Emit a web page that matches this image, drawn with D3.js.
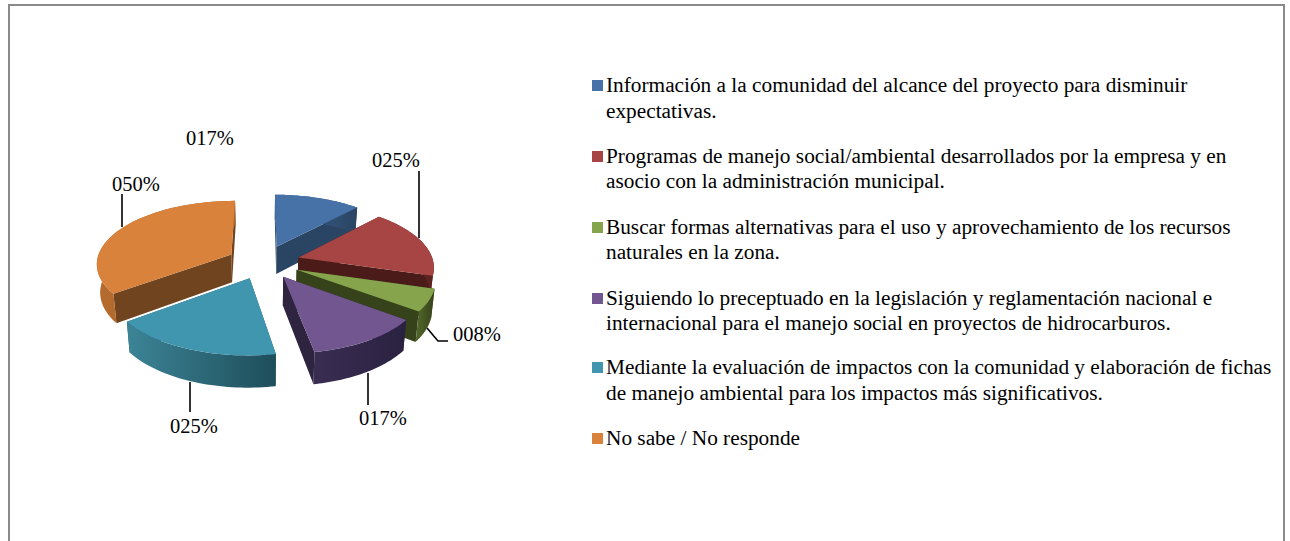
<!DOCTYPE html>
<html><head><meta charset="utf-8">
<script src="https://cdn.jsdelivr.net/npm/d3@7"></script>
<style>html,body{margin:0;padding:0;background:#fff;overflow:hidden}svg{display:block}text{font-family:"Liberation Serif",serif;fill:#000}</style>
</head><body><svg id="c" width="1290" height="541"></svg>
<script>
const categories=[
 ["Información a la comunidad del alcance del proyecto para disminuir","expectativas."],
 ["Programas de manejo social/ambiental desarrollados por la empresa y en","asocio con la administración municipal."],
 ["Buscar formas alternativas para el uso y aprovechamiento de los recursos","naturales en la zona."],
 ["Siguiendo lo preceptuado en la legislación y reglamentación nacional e","internacional para el manejo social en proyectos de hidrocarburos."],
 ["Mediante la evaluación de impactos con la comunidad y elaboración de fichas","de manejo ambiental para los impactos más significativos."],
 ["No sabe / No responde"]];
const values=[17,25,8,17,25,50];
const valueLabels=["017%","025%","008%","017%","025%","050%"];
const colors=["#4672A8","#A64543","#86A44C","#71568F","#4096AF","#D9823B"];
const wallColors=["#2A4564","#4A1B18","#364219","#2E2440","#24586A","#6F441E"];
const sideLight=["#3E6592","#7A2F2D","#4F6229","#3A2D52","#3C8497","#B56B2E"];
const sideDark=["#2A4564","#5A2220","#364219","#2A2140","#1E4E5A","#A96228"];

const labelPos=[[210,145],[396,167],[477,341],[383,425],[194,433],[136,191]];
const leaders=[null,[[419,171],[419,238]],[[427,328],[438,341],[448,341]],[[368,373],[368,405]],[[190,382],[190,412]],[[122,194],[122,227]]];
const legendLineY=[[92,118],[163,188],[234,259],[305,330],[374,400],[445]];

const svg=d3.select("#c");
svg.append("rect").attr("x",9).attr("y",5).attr("width",1275).attr("height",560)
  .attr("fill","#fff").attr("stroke","#8a8a8a").attr("stroke-width",2);

const cx=263.5,cy=262,Rx=135,Ry=62.5,persp=0.13,explode=0.27,depth=28;
function project(gx,gy,z){
  const s=1/(1+persp*gy);
  return [cx+Rx*gx*s*(1-0.02*z), cy-Ry*gy*s+depth*z*Math.pow(s,0.8)];
}
const pie=d3.pie().value(d=>d).sort(null)(values);
const line=d3.line();
const defs=svg.append("defs");
const pieG=svg.append("g");

const order=[5,0,1,2,4,3];
order.forEach(i=>{
  const p=pie[i],mid=(p.startAngle+p.endAngle)/2;
  const ox=explode*Math.sin(mid),oy=explode*Math.cos(mid);
  const pt=(a,r,z)=>project(ox+r*Math.sin(a),oy+r*Math.cos(a),z);
  const angles=d3.range(0,41).map(k=>p.startAngle+(p.endAngle-p.startAngle)*k/40);
  const g=pieG.append("g");
  [p.startAngle,p.endAngle].forEach(a=>{
    g.append("path").attr("fill",wallColors[i])
     .attr("d",line([pt(a,0,0),pt(a,1,0),pt(a,1,1),pt(a,0,1)])+"Z");
  });
  const id="side"+i;
  const xs=angles.map(a=>pt(a,1,0)[0]);
  const gr=defs.append("linearGradient").attr("id",id).attr("gradientUnits","userSpaceOnUse")
    .attr("x1",d3.min(xs)).attr("x2",d3.max(xs)).attr("y1",0).attr("y2",0);
  gr.append("stop").attr("offset",0).attr("stop-color",sideLight[i]);
  gr.append("stop").attr("offset",1).attr("stop-color",sideDark[i]);
  g.append("path").attr("fill",`url(#${id})`)
   .attr("d",line(angles.map(a=>pt(a,1,0)).concat(angles.slice().reverse().map(a=>pt(a,1,1))))+"Z");
  g.append("path").attr("fill",colors[i])
   .attr("d",line([pt(p.startAngle,0,0)].concat(angles.map(a=>pt(a,1,0))))+"Z");
});

svg.append("g").selectAll("path").data(leaders.filter(d=>d)).join("path")
  .attr("d",d=>line(d)).attr("fill","none").attr("stroke","#000").attr("stroke-width",1.6);
svg.append("g").selectAll("text").data(valueLabels).join("text")
  .attr("x",(d,i)=>labelPos[i][0]).attr("y",(d,i)=>labelPos[i][1])
  .attr("text-anchor","middle").attr("font-size",20.5).text(d=>d);

const lg=svg.append("g");
categories.forEach((lines,i)=>{
  lg.append("rect").attr("x",592).attr("y",legendLineY[i][0]-12).attr("width",11).attr("height",11).attr("fill",colors[i]);
  lines.forEach((t,j)=>lg.append("text").attr("x",606).attr("y",legendLineY[i][j]).attr("font-size",21.3).text(t));
});
</script></body></html>
